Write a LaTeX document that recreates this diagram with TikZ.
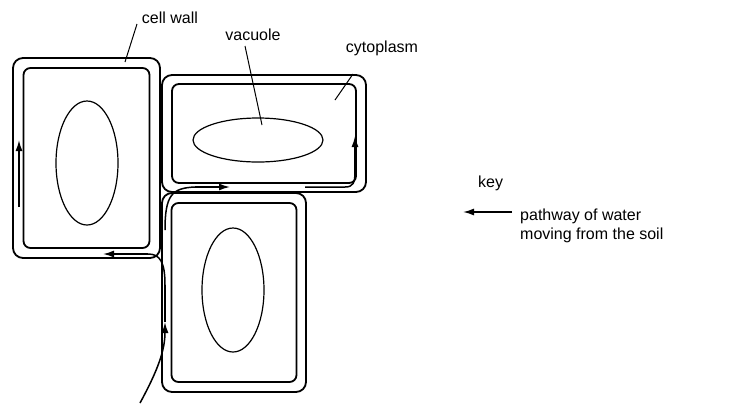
\documentclass[tikz,border=0pt]{standalone}
\usepackage{fontspec}
\setmainfont{Liberation Sans}
\usetikzlibrary{positioning, arrows.meta}
\tikzset{
    cell wall/.style = {rectangle, rounded corners=10pt, draw, line width=1.8pt, inner sep=0pt},
    cell membrane/.style = {rectangle, rounded corners=7pt, draw, line width=1.8pt, inner sep=0pt},
    label text/.style = {font=\fontsize{16}{19.5}\selectfont, inner sep=1pt},
    water/.style = {line width=1.5pt, -{Latex[length=11pt,width=7pt]}}
}
\begin{document}
\begin{tikzpicture}[x=1pt, y=-1pt]
    \useasboundingbox (0,0) rectangle (738,405);
    % cells
    \node[cell wall, minimum width=147pt, minimum height=200pt] (lwall) at (86.5,158) {};
    \node[cell membrane, minimum width=126pt, minimum height=180pt] (lcell) at (lwall.center) {};
    \draw[line width=1.2pt] (87,163) ellipse (31 and 62);
    \node[cell wall, minimum width=204pt, minimum height=117pt] (twall) at (264,133.5) {};
    \node[cell membrane, minimum width=184pt, minimum height=99pt] (tcell) at (twall.center) {};
    \draw[line width=1.2pt] (258,140) ellipse (65 and 22);
    \node[cell wall, minimum width=144pt, minimum height=199pt] (bwall) at (234,292.5) {};
    \node[cell membrane, minimum width=125pt, minimum height=179pt] (bcell) at (bwall.center) {};
    \draw[line width=1.2pt] (233,290) ellipse (31 and 62);
    % pathways
    \coordinate (soil) at (140,403);
    \coordinate (up1) at (165,322);
    \draw[water] (soil) .. controls (158,370) and (165,350) .. (up1);
    \draw[line width=1.5pt] (up1) -- (165,285);
    \draw[line width=1.5pt] (165,285) .. controls (165,262) and (160,254) .. (148,254);
    \draw[water] (148,254) -- (103,254);
    \draw[water] (19,207) -- (19,140);
    \draw[line width=1.5pt] (165,230) .. controls (165,195) and (172,188) .. (195,187);
    \draw[water] (195,187) -- (230,187);
    \draw[line width=1.5pt] (305,187) -- (345,187) .. controls (353,187) and (355,183) .. (355,172);
    \draw[water] (355,172) -- (355,136);
    % labels
    \node[label text] (wall label) at (170,18) {cell wall};
    \draw[line width=1pt] (137,24) -- (125,62);
    \node[label text] (vac label) at (253,35) {vacuole};
    \draw[line width=1pt] (245,46) -- (262,125);
    \node[label text] (cyto label) at (382,48) {cytoplasm};
    \draw[line width=1pt] (353,74) -- (335,100);
    % key
    \node[label text, anchor=west] (key) at (477,183) {key};
    \node[label text, anchor=west, align=left] (key text) at (519,226) {pathway of water\\moving from the soil};
    \draw[water] (512,212) -- (463,212);
\end{tikzpicture}
\end{document}
